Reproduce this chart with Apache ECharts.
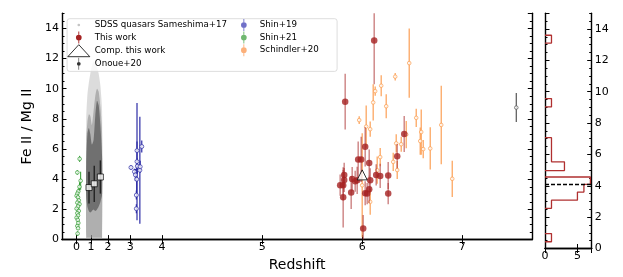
<!DOCTYPE html>
<html><head><meta charset="utf-8">
<script src="https://cdn.jsdelivr.net/npm/echarts@6/dist/echarts.min.js"></script>
<style>html,body{margin:0;padding:0;background:#fff}#c{width:623px;height:277px}</style>
</head><body><div id="c"></div>
<script>
// ---------- tick labels / axis scale ----------
const xTickLabels = [0, 1, 2, 3, 4, 5, 6, 7];
// axis coordinate of each redshift tick (compressed low-z part of the axis)
const xTickAxisPos = [3.146, 3.29, 3.46, 3.683, 4, 5, 6, 7];
const yTicksMain = [0, 2, 4, 6, 8, 10, 12, 14];
const histTickLabels = [0, 5];

// ---------- SDSS cloud (Sameshima+17), envelopes ----------
const sdssZ    = [0.67, 0.75, 0.85, 0.95, 1.05, 1.15, 1.25, 1.35, 1.45, 1.55, 1.65];
const sdssLightTop = [8.0, 9.6, 10.4, 11.0, 11.5, 11.8, 11.7, 11.4, 11.0, 10.2, 8.5];
const sdssMidTop   = [6.5, 7.8, 8.3, 8.2, 7.6, 8.5, 9.5, 10.0, 9.8, 8.8, 7.0];
const sdssDarkTop  = [5.0, 7.0, 7.4, 7.0, 6.3, 6.6, 8.2, 9.2, 8.9, 7.6, 5.5];
const sdssDarkBot  = [2.8, 2.2, 1.9, 1.8, 1.9, 2.0, 1.9, 2.0, 2.2, 2.5, 3.0];
const sdssFloor = 0.12;

// ---------- composites at low z: [z, value, err] ----------
const compLowZ = [[0.86, 3.45, 1.05], [1.19, 3.7, 1.2], [1.55, 4.15, 1.1]];
// composite of this work
const compThisWork = [[6.0, 4.29]];

// ---------- Shin+21 : [z, value, err] ----------
const shin21 = [
  [0.21, 5.35, 0.2], [0.05, 4.45, 0.15], [0.28, 3.9, 0.6], [0.2, 3.5, 0.3],
  [0.12, 3.2, 0.2], [0.05, 3.05, 0.15], [0.0, 2.9, 0.1], [0.1, 2.8, 0.2],
  [0.15, 2.6, 0.15], [0.05, 2.45, 0.15], [0.2, 2.35, 0.2], [0.1, 2.2, 0.1],
  [0.0, 2.05, 0.1], [0.15, 1.9, 0.2], [0.05, 1.75, 0.1], [0.1, 1.6, 0.15],
  [0.0, 1.45, 0.1], [0.08, 1.3, 0.1], [0.12, 1.1, 0.15], [0.05, 0.9, 0.1],
  [0.1, 0.75, 0.1], [0.07, 0.4, 0.15]
];

// ---------- Shin+19 : [z, value, err] ----------
const shin19 = [
  [3.21, 5.17, 3.88], [3.3, 4.6, 3.55], [3.21, 5.9, 0.6], [3.36, 6.17, 0.4],
  [3.02, 4.78, 0.15], [3.22, 4.87, 0.5], [3.31, 4.83, 0.4], [3.13, 4.5, 0.2],
  [3.16, 4.29, 0.4], [3.2, 4.0, 1.0], [3.19, 2.95, 0.3], [3.19, 2.05, 0.3]
];

// ---------- Onoue+20 ----------
const onoue20 = [[7.54, 8.75, 0.96]];

// ---------- This work : [z, value, err] ----------
const thisWork = [
  [6.12, 13.19, 2.9], [5.83, 9.14, 1.85], [6.42, 7.0, 1.2], [6.35, 5.53, 0.8],
  [6.03, 6.15, 1.3], [5.96, 5.31, 1.2], [5.99, 5.31, 1.5], [6.07, 5.08, 0.9],
  [5.82, 4.29, 0.8], [5.82, 3.95, 0.8], [6.26, 4.25, 0.9], [6.14, 4.29, 0.7],
  [6.18, 4.22, 0.8], [5.90, 4.01, 0.8], [5.93, 3.87, 0.7], [5.95, 3.93, 0.9],
  [5.78, 3.61, 0.7], [5.81, 3.61, 1.0], [6.08, 3.93, 0.8], [5.89, 3.12, 1.1],
  [5.81, 2.80, 2.0], [6.03, 3.07, 0.8], [6.05, 3.05, 0.7], [6.07, 3.33, 0.9],
  [6.26, 3.05, 0.7], [6.01, 0.73, 0.9]
];

// ---------- Schindler+20 : [z, value, err] ----------
const schindler20 = [
  [6.47, 11.7, 2.3], [6.33, 10.8, 0.25], [6.19, 10.2, 0.7], [6.13, 9.84, 0.3],
  [6.11, 9.09, 1.2], [6.24, 8.84, 0.8], [5.97, 7.92, 0.25], [6.04, 7.49, 1.4],
  [6.08, 7.32, 0.5], [6.54, 8.07, 0.6], [6.59, 7.13, 1.5], [6.79, 7.6, 2.6],
  [6.58, 6.53, 0.9], [6.61, 6.0, 0.6], [6.68, 6.04, 1.4], [6.44, 6.96, 0.9],
  [6.34, 6.38, 0.6], [6.39, 6.32, 0.5], [6.31, 5.15, 0.6], [6.18, 5.47, 0.6],
  [6.35, 4.61, 0.6], [6.9, 4.03, 1.2], [6.0, 3.6, 3.45], [6.08, 2.5, 0.85],
  [6.15, 4.6, 0.9]
];

// ---------- histogram of this work (bin edges, counts) ----------
const histEdges  = [0.43, 0.95, 2.56, 3.08, 3.60, 4.09, 4.56, 4.97, 5.53, 7.07, 9.03, 9.56, 13.10, 13.60];
const histCounts = [1, 0, 1, 5, 6, 7, 0, 3, 1, 0, 1, 0, 1];
const histMedian = 4.08;

// ---------- helpers ----------
const yMax = 15;
function toU(z) {
  if (z >= 4) return z;
  const k = Math.max(0, Math.min(3, Math.floor(z)));
  const z0 = xTickLabels[k], z1 = xTickLabels[k + 1];
  const u0 = xTickAxisPos[k], u1 = xTickAxisPos[k + 1];
  return u0 + (z - z0) * (u1 - u0) / (z1 - z0);
}
function errRender(color, width) {
  return function (params, api) {
    const x = api.value(0), y = api.value(1), e = api.value(2);
    const p1 = api.coord([x, Math.max(0, y - e)]);
    const p2 = api.coord([x, Math.min(yMax, y + e)]);
    return { type: 'line', shape: { x1: p1[0], y1: p1[1], x2: p2[0], y2: p2[1] },
             style: { stroke: color, lineWidth: width } };
  };
}
const toErr = arr => arr.map(d => [toU(d[0]), d[1], d[2]]);
const toPts = arr => arr.map(d => [toU(d[0]), d[1]]);

function cloudPolygon(tops, bots, fill) {
  return function (params, api) {
    const pts = [];
    for (let i = 0; i < sdssZ.length; i++) pts.push(api.coord([toU(sdssZ[i]), tops[i]]));
    for (let i = sdssZ.length - 1; i >= 0; i--) pts.push(api.coord([toU(sdssZ[i]), bots ? bots[i] : sdssFloor]));
    return { type: 'polygon', shape: { points: pts, smooth: 0.25 }, style: { fill: fill } };
  };
}

// step outline of each run of non-empty bins
const histRuns = [];
{
  let cur = null;
  for (let i = 0; i < histCounts.length; i++) {
    if (histCounts[i] > 0) {
      if (!cur) { cur = [[0, histEdges[i]]]; }
      cur.push([histCounts[i], histEdges[i]]);
      cur.push([histCounts[i], histEdges[i + 1]]);
    } else if (cur) {
      cur.push([0, histEdges[i]]); histRuns.push(cur); cur = null;
    }
  }
  if (cur) { cur.push([0, histEdges[histEdges.length - 1]]); histRuns.push(cur); }
}

// ---------- styles ----------
const FONT = 'DejaVu Sans';
const axLine = { show: true, lineStyle: { color: '#000', width: 1.4 } };
const C_RED = '#a52222', C_RED_ERR = 'rgba(168,40,40,0.55)';
const C_ORG = '#fb9c4c', C_BLUE = '#2c2ca6', C_GRN = '#2f9a2f', C_GRAY = '#555';

function xMain(pos, labels) {
  return {
    type: 'value', gridIndex: 0, position: pos, min: 3, max: 7.7,
    axisLine: axLine, splitLine: { show: false },
    axisTick: { show: true, inside: true, length: 4.5, customValues: xTickAxisPos, lineStyle: { color: '#000', width: 1 } },
    axisLabel: labels ? {
      show: true, customValues: xTickAxisPos, margin: 2.5, fontSize: 11, color: '#000', fontFamily: FONT,
      formatter: v => { const i = xTickAxisPos.findIndex(t => Math.abs(t - v) < 1e-6); return i >= 0 ? String(xTickLabels[i]) : ''; }
    } : { show: false },
    name: labels ? 'Redshift' : '', nameLocation: 'middle', nameGap: 14.5,
    nameTextStyle: { fontSize: 14, color: '#000', fontFamily: FONT }
  };
}
function xHist(pos, labels) {
  return {
    type: 'value', gridIndex: 1, position: pos, min: 0, max: 7.2, interval: 5,
    axisLine: axLine, splitLine: { show: false },
    axisTick: { show: true, inside: true, length: 4.5, lineStyle: { color: '#000', width: 1 } },
    axisLabel: labels ? { show: true, margin: 2.5, fontSize: 11, color: '#000', fontFamily: FONT, showMaxLabel: false } : { show: false }
  };
}
function yAx(grid, pos, minor, labels, name) {
  return {
    type: 'value', gridIndex: grid, position: pos, min: 0, max: yMax, interval: minor ? 0.5 : 2,
    axisLine: minor ? { show: false } : axLine, splitLine: { show: false },
    axisTick: { show: true, inside: true, length: minor ? 2.5 : 4.5, lineStyle: { color: '#000', width: 1 } },
    axisLabel: labels ? { show: true, margin: 3, fontSize: 11, color: '#000', fontFamily: FONT, showMaxLabel: false } : { show: false },
    name: name || '', nameLocation: 'middle', nameGap: 20,
    nameTextStyle: { fontSize: 14, color: '#000', fontFamily: FONT }
  };
}

const legendText = { fontSize: 8.7, color: '#000', fontFamily: FONT, lineHeight: 12 };
const icoErrDot = 'path://M4.4,0h1.2v16h-1.2z M5,4.2a3.8,3.8 0 1,1 0,7.6a3.8,3.8 0 1,1 0,-7.6z';
const icoErrRing = 'path://M4.6,0h0.8v16h-0.8z M5,5.5a2.5,2.5 0 1,1 0,5a2.5,2.5 0 1,1 0,-5z';
// small dot inside an invisible 10x16 frame (corner specks set the frame)
const icoSmallDot = 'path://M0,0h0.01v0.01h-0.01z M9.99,15.99h0.01v0.01h-0.01z M5,6.2a1.8,1.8 0 1,1 0,3.6a1.8,1.8 0 1,1 0,-3.6z';

const series = [
  // SDSS cloud
  { type: 'custom', name: 'SDSS quasars Sameshima+17', xAxisIndex: 0, yAxisIndex: 0, z: 1,
    data: [[0]], renderItem: cloudPolygon(sdssLightTop, null, 'rgba(185,185,185,0.5)') },
  { type: 'custom', name: 'SDSS quasars Sameshima+17', xAxisIndex: 0, yAxisIndex: 0, z: 1,
    data: [[0]], renderItem: cloudPolygon(sdssMidTop, null, 'rgba(120,120,120,0.45)') },
  { type: 'custom', name: 'SDSS quasars Sameshima+17', xAxisIndex: 0, yAxisIndex: 0, z: 1,
    data: [[0]], renderItem: cloudPolygon(sdssDarkTop, sdssDarkBot, 'rgba(60,60,60,0.55)') },

  // Shin+21
  { type: 'custom', name: 'Shin+21', xAxisIndex: 0, yAxisIndex: 0, z: 2, data: toErr(shin21), renderItem: errRender(C_GRN, 1) },
  { type: 'scatter', name: 'Shin+21', xAxisIndex: 0, yAxisIndex: 0, z: 3, data: toPts(shin21), symbol: 'circle', symbolSize: 3.6,
    itemStyle: { color: '#fff', borderColor: C_GRN, borderWidth: 0.9 } },

  // low-z composites
  { type: 'custom', name: 'lowzcomp', xAxisIndex: 0, yAxisIndex: 0, z: 3, data: toErr(compLowZ), renderItem: errRender('#222', 1.4) },
  { type: 'scatter', name: 'lowzcomp', xAxisIndex: 0, yAxisIndex: 0, z: 4, data: toPts(compLowZ), symbol: 'rect', symbolSize: 6,
    itemStyle: { color: '#fff', borderColor: '#000', borderWidth: 0.9 } },

  // Shin+19
  { type: 'custom', name: 'Shin+19', xAxisIndex: 0, yAxisIndex: 0, z: 2, data: toErr(shin19), renderItem: errRender(C_BLUE, 1.2) },
  { type: 'scatter', name: 'Shin+19', xAxisIndex: 0, yAxisIndex: 0, z: 3, data: toPts(shin19), symbol: 'circle', symbolSize: 4,
    itemStyle: { color: '#fff', borderColor: C_BLUE, borderWidth: 0.9 } },

  // Schindler+20
  { type: 'custom', name: 'Schindler+20', xAxisIndex: 0, yAxisIndex: 0, z: 2, data: toErr(schindler20), renderItem: errRender('rgba(251,150,70,0.85)', 1.3) },
  { type: 'scatter', name: 'Schindler+20', xAxisIndex: 0, yAxisIndex: 0, z: 3, data: toPts(schindler20), symbol: 'circle', symbolSize: 3.6,
    itemStyle: { color: '#fff', borderColor: C_ORG, borderWidth: 0.9 } },

  // This work
  { type: 'custom', name: 'This work', xAxisIndex: 0, yAxisIndex: 0, z: 4, data: toErr(thisWork), renderItem: errRender(C_RED_ERR, 1.5) },
  { type: 'scatter', name: 'This work', xAxisIndex: 0, yAxisIndex: 0, z: 5, data: toPts(thisWork), symbol: 'circle', symbolSize: 6.5,
    itemStyle: { color: C_RED } },

  // Onoue+20
  { type: 'custom', name: 'Onoue+20', xAxisIndex: 0, yAxisIndex: 0, z: 2, data: toErr(onoue20), renderItem: errRender(C_GRAY, 1.2) },
  { type: 'scatter', name: 'Onoue+20', xAxisIndex: 0, yAxisIndex: 0, z: 3, data: toPts(onoue20), symbol: 'circle', symbolSize: 3.6,
    itemStyle: { color: '#fff', borderColor: C_GRAY, borderWidth: 0.9 } },

  // Comp. this work
  { type: 'scatter', name: 'Comp. this work', xAxisIndex: 0, yAxisIndex: 0, z: 6, data: toPts(compThisWork), symbol: 'triangle', symbolSize: 10,
    itemStyle: { color: '#fff', borderColor: '#000', borderWidth: 1 } },

  // histogram median line
  { type: 'line', name: 'histmed', xAxisIndex: 2, yAxisIndex: 6, data: [[0, histMedian], [7.2, histMedian]], symbol: 'none', z: 4,
    lineStyle: { color: '#000', width: 1.5, type: [4, 2] } }
];
histRuns.forEach((run, k) => series.push({
  type: 'line', name: 'hist' + k, xAxisIndex: 2, yAxisIndex: 6, data: run, symbol: 'none', z: 3,
  lineStyle: { color: '#b03030', width: 1.3 }
}));

const option = {
  animation: false,
  backgroundColor: '#fff',
  textStyle: { fontFamily: FONT },
  grid: [
    { left: 62, right: 90.7, top: 13.3, bottom: 28.5 },
    { left: 545, right: 31.3, top: 13.3, bottom: 28.5 }
  ],
  xAxis: [xMain('bottom', true), xMain('top', false), xHist('bottom', true), xHist('top', false)],
  yAxis: [
    yAx(0, 'left', false, true, 'Fe II / Mg II'), yAx(0, 'left', true, false),
    yAx(0, 'right', false, false), yAx(0, 'right', true, false),
    yAx(1, 'left', false, false), yAx(1, 'left', true, false),
    yAx(1, 'right', false, true), yAx(1, 'right', true, false)
  ],
  graphic: [{
    type: 'rect', left: 66.7, top: 18.3, z: 3,
    shape: { width: 270, height: 52.7, r: 2.5 },
    style: { fill: 'rgba(255,255,255,0.8)', stroke: '#d4d4d4', lineWidth: 0.8 }
  }],
  legend: [
    {
      left: 67.3, top: 19, orient: 'vertical', padding: 0, itemWidth: 22, itemHeight: 12, itemGap: 0.6,
      selectedMode: false, textStyle: legendText, z: 5,
      data: [
        { name: 'SDSS quasars Sameshima+17', icon: icoSmallDot, itemStyle: { color: '#c4c4c4' } },
        { name: 'This work', icon: icoErrDot, itemStyle: { color: C_RED } },
        { name: 'Comp. this work', icon: 'triangle', itemStyle: { color: '#fff', borderColor: '#000', borderWidth: 1 } },
        { name: 'Onoue+20', icon: icoErrRing, itemStyle: { color: '#333' } }
      ]
    },
    {
      left: 241, top: 19, orient: 'vertical', padding: 0, itemWidth: 22, itemHeight: 12, itemGap: 0.6,
      selectedMode: false, textStyle: legendText, z: 5,
      data: [
        { name: 'Shin+19', icon: icoErrDot, itemStyle: { color: '#7070c8' } },
        { name: 'Shin+21', icon: icoErrDot, itemStyle: { color: '#70b870' } },
        { name: 'Schindler+20', icon: icoErrDot, itemStyle: { color: '#fcb07a' } }
      ]
    }
  ],
  series: series
};
const chart = echarts.init(document.getElementById('c'), null, { renderer: 'canvas' });
chart.setOption(option);
</script></body></html>
